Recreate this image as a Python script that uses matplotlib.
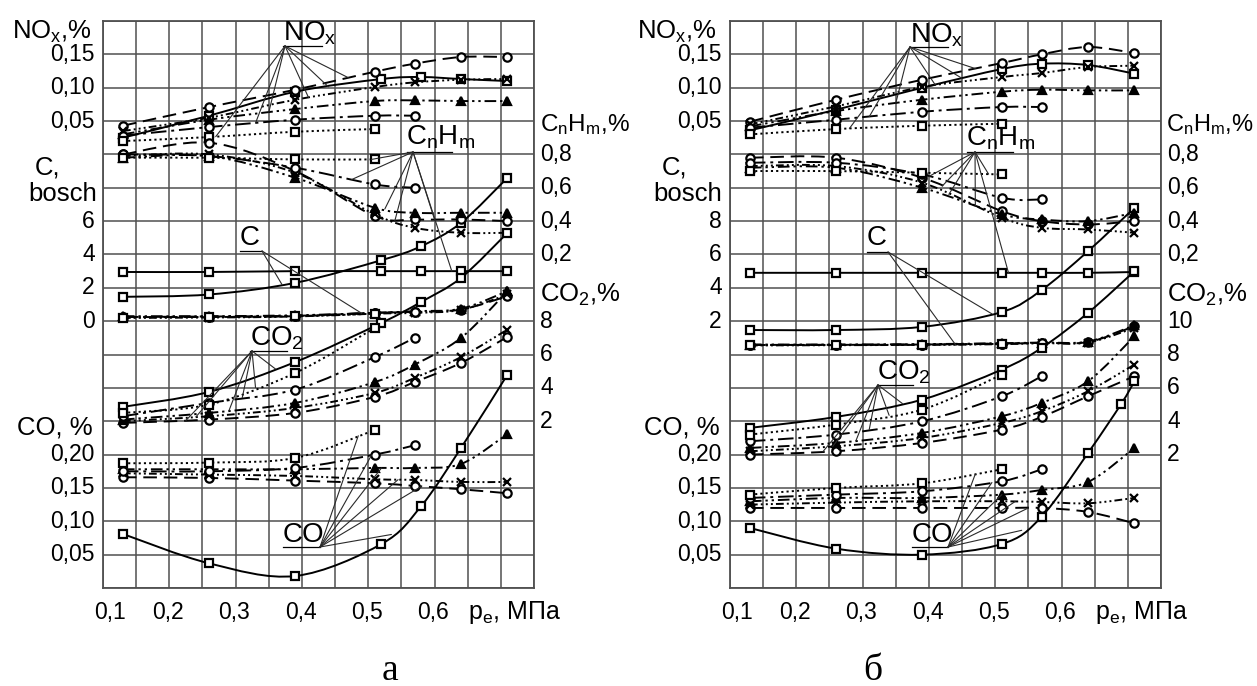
import numpy as np
import matplotlib
matplotlib.use("Agg")
import matplotlib.pyplot as plt
from matplotlib.patches import ConnectionPatch, PathPatch
from matplotlib.path import Path
from matplotlib.transforms import blended_transform_factory as blend

plt.rcParams['font.family'] = ['Liberation Sans', 'DejaVu Sans']
plt.rcParams['mathtext.fontset'] = 'custom'
plt.rcParams['mathtext.rm'] = 'Liberation Sans'
plt.rcParams['mathtext.it'] = 'Liberation Sans'
plt.rcParams['mathtext.default'] = 'regular'

# ------------------------------------------------------------------ data
# effective pressure p_e, MPa
XA1 = [0.13, 0.26, 0.39, 0.52, 0.58, 0.64, 0.71]
XA = [0.13, 0.26, 0.39, 0.51, 0.57, 0.64, 0.71]
XB = [0.13, 0.26, 0.39, 0.51, 0.57, 0.64, 0.71]
XB_CO1 = [0.13, 0.26, 0.39, 0.51, 0.57, 0.64, 0.69, 0.71]

# ---- panel a
NOX_A_1 = [0.025, 0.058, 0.094, 0.113, 0.116, 0.113, 0.110]
NOX_A_2 = [0.043, 0.071, 0.097, 0.124, 0.136, 0.146, 0.146]
NOX_A_3 = [0.035, 0.055, 0.082, 0.101, 0.108, 0.112, 0.113]
NOX_A_4 = [0.030, 0.052, 0.068, 0.080, 0.081, 0.080, 0.080]
NOX_A_5 = [0.028, 0.041, 0.052, 0.058, 0.058]
NOX_A_6 = [0.020, 0.026, 0.034, 0.038]

CH_A_1 = [0.095, 0.095, 0.10, 0.10, 0.10, 0.10, 0.10]
CH_A_2 = [0.80, 0.87, 0.70, 0.43, 0.41, 0.41, 0.40]
CH_A_3 = [0.79, 0.80, 0.69, 0.44, 0.36, 0.33, 0.33]
CH_A_4 = [0.78, 0.79, 0.66, 0.48, 0.45, 0.45, 0.45]
CH_A_5 = [0.80, 0.79, 0.72, 0.62, 0.60]
CH_A_6 = [0.78, 0.78, 0.77, 0.77]

C_A_1 = [1.46, 1.6, 2.3, 3.66, 4.5, 5.9, 8.6]
C_A_2 = [0.25, 0.25, 0.30, 0.50, 0.55, 0.70, 1.50]
C_A_3 = [0.20, 0.22, 0.28, 0.45, 0.50, 0.68, 1.60]
C_A_4 = [0.30, 0.30, 0.35, 0.50, 0.60, 0.75, 1.80]
C_A_5 = [0.25, 0.28, 0.32, 0.50, 0.55]
C_A_6 = [0.22, 0.25, 0.30, 0.45]

CO2_A_1 = [2.86, 3.76, 5.55, 7.9, 9.16, 10.6, 13.3]
CO2_A_2 = [1.9, 2.1, 2.5, 3.46, 4.35, 5.5, 7.06]
CO2_A_3 = [2.0, 2.3, 2.8, 3.7, 4.6, 5.85, 7.5]
CO2_A_4 = [2.1, 2.5, 3.1, 4.35, 5.4, 7.0, 9.8]
CO2_A_5 = [2.3, 3.1, 3.9, 5.85, 7.0]
CO2_A_6 = [2.5, 3.0, 4.9, 7.6]

CO_A_1 = [0.081, 0.037, 0.018, 0.066, 0.123, 0.21, 0.32]
CO_A_2 = [0.166, 0.165, 0.161, 0.157, 0.153, 0.148, 0.142]
CO_A_3 = [0.172, 0.170, 0.168, 0.163, 0.162, 0.159, 0.159]
CO_A_4 = [0.178, 0.178, 0.178, 0.180, 0.180, 0.186, 0.231]
CO_A_5 = [0.175, 0.175, 0.180, 0.200, 0.214]
CO_A_6 = [0.187, 0.188, 0.195, 0.237]

# ---- panel b
NOX_B_1 = [0.036, 0.067, 0.100, 0.128, 0.136, 0.134, 0.121]
NOX_B_2 = [0.049, 0.082, 0.112, 0.137, 0.150, 0.161, 0.152]
NOX_B_3 = [0.045, 0.072, 0.101, 0.116, 0.122, 0.131, 0.133]
NOX_B_4 = [0.042, 0.065, 0.082, 0.094, 0.097, 0.096, 0.096]
NOX_B_5 = [0.040, 0.052, 0.064, 0.071, 0.071]
NOX_B_6 = [0.030, 0.038, 0.043, 0.046]

CH_B_1 = [0.09, 0.09, 0.09, 0.09, 0.09, 0.09, 0.095]
CH_B_2 = [0.78, 0.78, 0.66, 0.46, 0.40, 0.38, 0.40]
CH_B_3 = [0.73, 0.73, 0.63, 0.42, 0.36, 0.35, 0.33]
CH_B_4 = [0.72, 0.72, 0.60, 0.44, 0.41, 0.40, 0.45]
CH_B_5 = [0.75, 0.75, 0.68, 0.54, 0.53]
CH_B_6 = [0.70, 0.70, 0.69, 0.68]

C_B_1 = [1.47, 1.47, 1.66, 2.55, 3.87, 6.2, 8.8]
C_B_2 = [0.58, 0.58, 0.60, 0.65, 0.70, 0.75, 1.70]
C_B_3 = [0.55, 0.56, 0.58, 0.62, 0.68, 0.72, 1.60]
C_B_4 = [0.60, 0.60, 0.62, 0.68, 0.72, 0.78, 1.75]
C_B_5 = [0.57, 0.58, 0.60, 0.66, 0.70]
C_B_6 = [0.56, 0.57, 0.59, 0.64]

CO2_B_1 = [3.6, 4.26, 5.3, 7.1, 8.4, 10.5, 13.0]
CO2_B_2 = [2.0, 2.2, 2.7, 3.5, 4.26, 5.5, 6.7]
CO2_B_3 = [2.2, 2.5, 3.0, 3.9, 4.6, 5.8, 7.4]
CO2_B_4 = [2.4, 2.7, 3.3, 4.3, 5.1, 6.4, 9.1]
CO2_B_5 = [2.8, 3.2, 4.0, 5.5, 6.7]
CO2_B_6 = [3.2, 3.8, 4.7, 6.8]

CO_B_1 = [0.090, 0.059, 0.050, 0.066, 0.107, 0.2025, 0.276, 0.31]
CO_B_2 = [0.120, 0.120, 0.120, 0.120, 0.120, 0.114, 0.097]
CO_B_3 = [0.125, 0.128, 0.130, 0.130, 0.129, 0.127, 0.135]
CO_B_4 = [0.130, 0.135, 0.135, 0.140, 0.147, 0.159, 0.210]
CO_B_5 = [0.135, 0.140, 0.145, 0.160, 0.178]
CO_B_6 = [0.140, 0.150, 0.157, 0.178]

# ------------------------------------------------------------------ styles
W, H = 1257, 686
LW = 1.4
STYLE = {
    1: dict(ls='-', marker='s', mfc='white', ms=5.5),
    2: dict(ls=(0, (7, 3.5)), marker='o', mfc='white', ms=6),
    3: dict(ls=(0, (4, 1.6, 1, 1.6, 1, 1.6, 1, 1.6)), marker='x', mfc='black', ms=6),
    4: dict(ls=(0, (6, 2, 1.2, 2, 1.2, 2)), marker='^', mfc='black', ms=6.2),
    5: dict(ls=(0, (8, 2.5, 1.5, 2.5)), marker='o', mfc='white', ms=6),
    6: dict(ls=(0, (1.1, 1.6)), marker='s', mfc='white', ms=5.5),
}
GRID = '#505050'
FS_TICK = 16.5
FS_TITLE = 18.5
FS_GROUP = 20

fig = plt.figure(figsize=(W / 100, H / 100), dpi=100)

TOP, BOT = 21, 588


def smooth_path(xs, ys):
    """Smooth curve through the data points (cubic Bezier segments)."""
    p = np.column_stack([xs, ys]).astype(float)
    n = len(p)
    verts = [p[0]]
    codes = [Path.MOVETO]
    for i in range(n - 1):
        p0 = p[i - 1] if i > 0 else p[i]
        p3 = p[i + 2] if i + 2 < n else p[i + 1]
        c1 = p[i] + (p[i + 1] - p0) / 6.0
        c2 = p[i + 1] - (p3 - p[i]) / 6.0
        verts += [c1, c2, p[i + 1]]
        codes += [Path.CURVE4] * 3
    return Path(verts, codes)


def make_panel(left_px, x1, xo, series, scales, lticks, rticks, labels,
               side_labels, letter):
    axw = 431
    ax = fig.add_axes([left_px / W, (H - BOT) / H, axw / W, (BOT - TOP) / H])
    ax.set_xlim(0.1, 0.75)
    ax.set_ylim(0, 17)
    ax.set_xticks(np.arange(0.1, 0.7501, 0.05))
    ax.set_yticks(np.arange(0, 18))
    ax.tick_params(length=0, labelbottom=False, labelleft=False)
    ax.grid(True, color=GRID, lw=1.1)
    for s in ax.spines.values():
        s.set_color(GRID)
        s.set_linewidth(1.3)

    def P(px, py):
        return 0.1 + (px - left_px) / 33.15 * 0.05, (BOT - py) / 33.35

    def xs_for(g, k, n):
        if k == 1:
            return (x1[g] if isinstance(x1, dict) else x1)[:n]
        return xo[:n]

    gax = {}
    for g, (lo, hi) in scales.items():
        t = ax.twinx()
        t.set_ylim(lo, hi)
        t.axis('off')
        gax[g] = t

    for g, lst in series.items():
        for k, ys in lst.items():
            xs = xs_for(g, k, len(ys))
            st = STYLE[k]
            patch = PathPatch(smooth_path(xs, ys), fill=False, lw=LW,
                              edgecolor='black', linestyle=st['ls'],
                              transform=gax[g].transData, clip_on=False)
            gax[g].add_patch(patch)
            gax[g].plot(xs, ys, ls='none', color='black',
                        marker=st['marker'], ms=st['ms'], mfc=st['mfc'],
                        mec='black', mew=1.6, clip_on=False, zorder=4)

    # scale tick labels
    for g, vals, labs in lticks:
        tr = blend(ax.transAxes, gax[g].transData)
        for v, lab in zip(vals, labs):
            ax.text(-0.019, v, lab, transform=tr, ha='right', va='center',
                    fontsize=FS_TICK)
    for g, vals, labs in rticks:
        tr = blend(ax.transAxes, gax[g].transData)
        for v, lab in zip(vals, labs):
            ax.text(1.014, v, lab, transform=tr, ha='left', va='center',
                    fontsize=FS_TICK)

    # x tick labels
    trx = blend(ax.transData, ax.transAxes)
    for v in [0.1, 0.2, 0.3, 0.4, 0.5, 0.6]:
        xv = v + (0.0106 if v == 0.1 else -0.002)
        ax.text(xv, -0.044, ('%.1f' % v).replace('.', ','), transform=trx,
                ha='center', va='center', fontsize=FS_TICK)
    x0, _ = P(468 + left_px - 103, 0)
    ax.text(x0, -0.044, 'p$_e$, МПа', transform=trx, ha='left', va='center',
            fontsize=18)

    # axis titles (pixel positions)
    for (px, py, txt, ha, fs) in side_labels:
        fig.text(px / W, 1 - py / H, txt, ha=ha, va='center', fontsize=fs)

    # curve group labels with underline + leader lines
    for (g, txt, tx, ty, ux0, ux1, uy, ax_px, keys) in labels:
        x, y = P(tx, ty)
        ax.text(x, y, txt, ha='left', va='center', fontsize=FS_GROUP)
        xa, ya = P(ux0, uy)
        xb, _ = P(ux1, uy)
        ax.plot([xa, xb], [ya, ya], color='black', lw=0.9, clip_on=False)
        axx, axy = P(ax_px, uy)
        for (k, xt) in keys:
            ys = series[g][k]
            xs = xs_for(g, k, len(ys))
            yt = float(np.interp(xt, xs, ys))
            cp = ConnectionPatch(xyA=(axx, axy), coordsA=ax.transData,
                                 xyB=(xt, yt), coordsB=gax[g].transData,
                                 color='#2a2a2a', lw=0.8, zorder=5)
            fig.add_artist(cp)

    fig.text(letter[0] / W, 1 - letter[1] / H, letter[2], ha='center',
             va='baseline', fontsize=27, family='Liberation Serif')


# ------------------------------------------------------------------ panel a
series_a = {
    'NOx': {1: NOX_A_1, 2: NOX_A_2, 3: NOX_A_3, 4: NOX_A_4, 5: NOX_A_5, 6: NOX_A_6},
    'CnHm': {1: CH_A_1, 2: CH_A_2, 3: CH_A_3, 4: CH_A_4, 5: CH_A_5, 6: CH_A_6},
    'C': {1: C_A_1, 2: C_A_2, 3: C_A_3, 4: C_A_4, 5: C_A_5, 6: C_A_6},
    'CO2': {1: CO2_A_1, 2: CO2_A_2, 3: CO2_A_3, 4: CO2_A_4, 5: CO2_A_5, 6: CO2_A_6},
    'CO': {1: CO_A_1, 2: CO_A_2, 3: CO_A_3, 4: CO_A_4, 5: CO_A_5, 6: CO_A_6},
}
scales_a = {'NOx': (-0.65, 0.20), 'C': (-16, 18), 'CnHm': (-1.8, 1.6),
            'CO2': (-8, 26), 'CO': (0, 0.85)}
lt_a = [('NOx', [0.15, 0.10, 0.05], ['0,15', '0,10', '0,05']),
        ('C', [6, 4, 2, 0], ['6', '4', '2', '0']),
        ('CO', [0.20, 0.15, 0.10, 0.05], ['0,20', '0,15', '0,10', '0,05'])]
rt_a = [('CnHm', [0.8, 0.6, 0.4, 0.2], ['0,8', '0,6', '0,4', '0,2']),
        ('CO2', [8, 6, 4, 2], ['8', '6', '4', '2'])]
labels_a = [
    ('NOx', 'NO$_x$', 283, 33, 283, 322, 46, 285,
     [(6, 0.27), (5, 0.33), (4, 0.35), (3, 0.41), (1, 0.44), (2, 0.47)]),
    ('CnHm', 'C$_n$H$_m$', 406, 137, 407, 452, 152, 413,
     [(6, 0.505), (5, 0.475), (4, 0.525), (3, 0.54), (2, 0.60), (1, 0.626)]),
    ('C', 'C', 240, 238, 240, 262, 251, 262, [(1, 0.37), (4, 0.49)]),
    ('CO2', 'CO$_2$', 250, 338, 250, 287, 351, 252,
     [(2, 0.225), (3, 0.24), (4, 0.29), (5, 0.31), (6, 0.33), (1, 0.36)]),
    ('CO', 'CO', 283, 535, 283, 320, 547, 320,
     [(6, 0.485), (5, 0.505), (4, 0.52), (3, 0.545), (2, 0.58), (1, 0.535)]),
]
side_a = [(12, 32, 'NO$_x$,%', 'left', FS_TITLE), (35, 167, 'C,', 'left', FS_TITLE),
          (97, 194, 'bosch', 'right', FS_TITLE), (93, 428, 'CO, %', 'right', FS_TITLE),
          (540, 125, 'C$_n$H$_m$,%', 'left', 17.5), (540, 295, 'CO$_2$,%', 'left', FS_TITLE)]
make_panel(103, XA1, XA, series_a, scales_a, lt_a, rt_a, labels_a,
           side_a, (390, 680, 'а'))

# ------------------------------------------------------------------ panel b
series_b = {
    'NOx': {1: NOX_B_1, 2: NOX_B_2, 3: NOX_B_3, 4: NOX_B_4, 5: NOX_B_5, 6: NOX_B_6},
    'CnHm': {1: CH_B_1, 2: CH_B_2, 3: CH_B_3, 4: CH_B_4, 5: CH_B_5, 6: CH_B_6},
    'C': {1: C_B_1, 2: C_B_2, 3: C_B_3, 4: C_B_4, 5: C_B_5, 6: C_B_6},
    'CO2': {1: CO2_B_1, 2: CO2_B_2, 3: CO2_B_3, 4: CO2_B_4, 5: CO2_B_5, 6: CO2_B_6},
    'CO': {1: CO_B_1, 2: CO_B_2, 3: CO_B_3, 4: CO_B_4, 5: CO_B_5, 6: CO_B_6},
}
x1_b = {'NOx': XB, 'CnHm': XB, 'C': XB, 'CO2': XB, 'CO': XB_CO1}
scales_b = {'NOx': (-0.65, 0.20), 'C': (-14, 20), 'CnHm': (-1.8, 1.6),
            'CO2': (-6, 28), 'CO': (0, 0.85)}
lt_b = [('NOx', [0.15, 0.10, 0.05], ['0,15', '0,10', '0,05']),
        ('C', [8, 6, 4, 2], ['8', '6', '4', '2']),
        ('CO', [0.20, 0.15, 0.10, 0.05], ['0,20', '0,15', '0,10', '0,05'])]
rt_b = [('CnHm', [0.8, 0.6, 0.4, 0.2], ['0,8', '0,6', '0,4', '0,2']),
        ('CO2', [10, 8, 6, 4, 2], ['10', '8', '6', '4', '2'])]
labels_b = [
    ('NOx', 'NO$_x$', 910, 35, 910, 948, 47, 910,
     [(6, 0.28), (5, 0.31), (4, 0.35), (3, 0.41), (1, 0.45), (2, 0.47)]),
    ('CnHm', 'C$_n$H$_m$', 966, 138, 967, 1013, 152, 975,
     [(5, 0.40), (2, 0.42), (3, 0.43), (4, 0.47), (6, 0.49), (1, 0.52)]),
    ('C', 'C', 867, 238, 867, 888, 252, 888, [(1, 0.495), (3, 0.44)]),
    ('CO2', 'CO$_2$', 877, 372, 877, 913, 385, 878,
     [(2, 0.24), (3, 0.255), (4, 0.29), (5, 0.31), (6, 0.34), (1, 0.36)]),
    ('CO', 'CO', 912, 535, 912, 948, 547, 948,
     [(6, 0.47), (5, 0.495), (4, 0.51), (3, 0.53), (2, 0.55), (1, 0.54)]),
]
side_b = [(637, 32, 'NO$_x$,%', 'left', FS_TITLE), (662, 167, 'C,', 'left', FS_TITLE),
          (722, 194, 'bosch', 'right', FS_TITLE), (720, 428, 'CO, %', 'right', FS_TITLE),
          (1166, 125, 'C$_n$H$_m$,%', 'left', 17), (1167, 295, 'CO$_2$,%', 'left', FS_TITLE)]
make_panel(730, x1_b, XB, series_b, scales_b, lt_b, rt_b, labels_b,
           side_b, (873, 680, 'б'))

fig.savefig('out.png', dpi=100, facecolor='white')
